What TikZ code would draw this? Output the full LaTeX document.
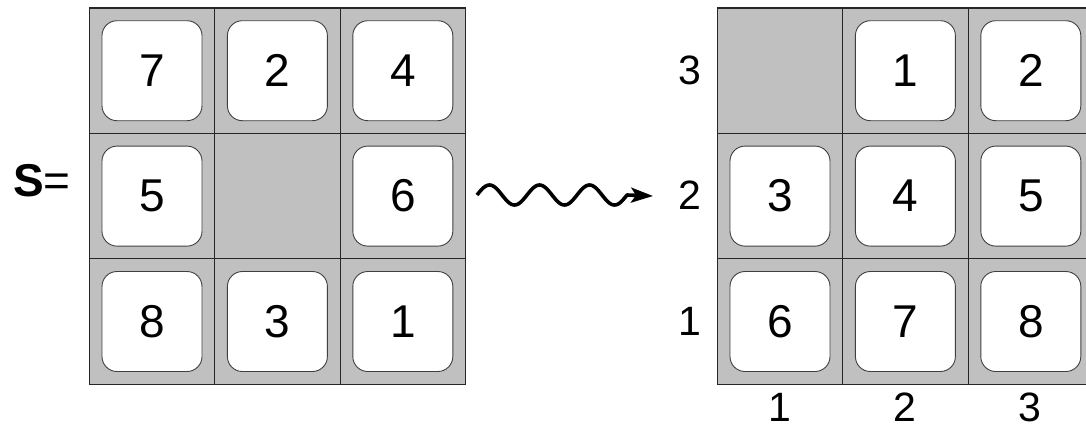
\documentclass[tikz,border=0pt]{standalone}
\usepackage{fontspec}
\setmainfont{Liberation Sans}
\usetikzlibrary{arrows.meta}
\definecolor{cellgray}{HTML}{C0C0C0}
\tikzset{
  cellbox/.style={draw=black!85, line width=1.1pt, fill=cellgray, minimum size=125.4pt, inner sep=0pt, outer sep=0pt},
  tile/.style={draw=black!75, line width=0.9pt, fill=white, rounded corners=15pt, minimum size=100pt, inner sep=0pt,
    font=\fontsize{46}{46}\selectfont},
  axislabel/.style={font=\fontsize{41}{41}\selectfont, inner sep=0pt, anchor=base},
  wavy/.style={line width=3.6pt, line join=round, -{Stealth[length=22pt, width=15pt, inset=5pt]}}
}
\begin{document}
\begin{tikzpicture}[x=1pt,y=1pt]
\useasboundingbox (0,0) rectangle (1086,-424);
% left grid
\foreach \r in {0,1,2} \foreach \c in {0,1,2} {
  \node[cellbox] (L\r\c) at ({89.3+62.7+125.4*\c},{-(8+62.7+125.4*\r)}) {};
}
\node[tile] (l7) at (L00) {7};
\node[tile] (l2) at (L01) {2};
\node[tile] (l4) at (L02) {4};
\node[tile] (l5) at (L10) {5};
\node[tile] (l6) at (L12) {6};
\node[tile] (l8) at (L20) {8};
\node[tile] (l3) at (L21) {3};
\node[tile] (l1) at (L22) {1};
% right grid
\foreach \r in {0,1,2} \foreach \c in {0,1,2} {
  \node[cellbox] (R\r\c) at ({717.3+62.7+125.4*\c},{-(8+62.7+125.4*\r)}) {};
}
\node[tile] (r1) at (R01) {1};
\node[tile] (r2) at (R02) {2};
\node[tile] (r3) at (R10) {3};
\node[tile] (r4) at (R11) {4};
\node[tile] (r5) at (R12) {5};
\node[tile] (r6) at (R20) {6};
\node[tile] (r7) at (R21) {7};
\node[tile] (r8) at (R22) {8};
% S=
\node[font=\fontsize{46}{46}\selectfont, inner sep=0pt, anchor=base west] (S) at (13,-196) {\bfseries S\mdseries=};
% row labels
\node[axislabel] (row3) at (690,-84.5) {3};
\node[axislabel] (row2) at (690,-209.5) {2};
\node[axislabel] (row1) at (690,-335) {1};
% column labels
\node[axislabel] (col1) at (780,-421) {1};
\node[axislabel] (col2) at (905,-421) {2};
\node[axislabel] (col3) at (1030,-421) {3};
% wavy arrow
\coordinate (wstart) at (477,-195);
\coordinate (wend) at (653,-196);
\draw[wavy] (wstart) -- plot[domain=0:150, samples=121, smooth] ({477+\x}, {-195+10*sin(7.2*\x)}) -- (wend);
\end{tikzpicture}
\end{document}
